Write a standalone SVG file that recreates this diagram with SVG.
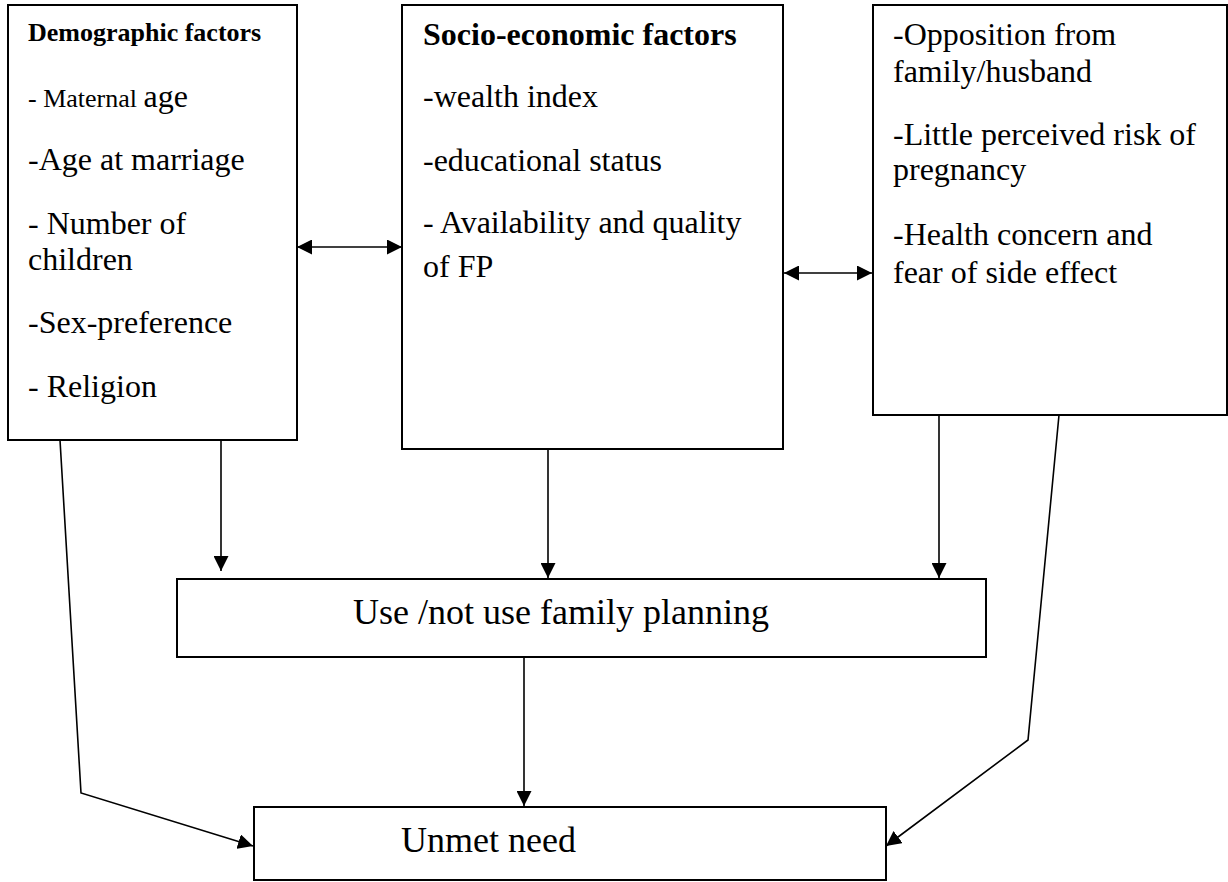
<svg xmlns="http://www.w3.org/2000/svg" width="1228" height="882" viewBox="0 0 1228 882">
<style>
.box{fill:#fff;stroke:#000;stroke-width:2}
.t{font-family:"Liberation Serif","Times New Roman",serif;font-size:32px;fill:#000}
.b{font-weight:bold}
.con{fill:none;stroke:#000;stroke-width:1.6}
</style>
<defs>
<marker id="ah" viewBox="0 0 15 15" markerWidth="15" markerHeight="15" refX="15" refY="7.5" orient="auto-start-reverse" markerUnits="userSpaceOnUse">
<path d="M0,0 L15,7.5 L0,15 z" fill="#000"/>
</marker>
</defs>
<rect width="1228" height="882" fill="#fff"/>
<g id="demographic">
<rect class="box" x="8" y="5" width="289" height="435"/>
<text class="t b" x="28" y="41" style="font-size:26px">Demographic factors</text>
<text class="t" x="28" y="107"><tspan style="font-size:26px">- Maternal </tspan>age</text>
<text class="t" x="28" y="170">-Age at marriage</text>
<text class="t" x="28" y="234">- Number of</text>
<text class="t" x="28" y="270">children</text>
<text class="t" x="28" y="333">-Sex-preference</text>
<text class="t" x="28" y="397">- Religion</text>
</g>
<g id="socioeconomic">
<rect class="box" x="402" y="5" width="381" height="444"/>
<text class="t b" x="423" y="45">Socio-economic factors</text>
<text class="t" x="423" y="107">-wealth index</text>
<text class="t" x="423" y="171">-educational status</text>
<text class="t" x="423" y="233">- Availability and quality</text>
<text class="t" x="423" y="277">of FP</text>
</g>
<g id="barriers">
<rect class="box" x="873" y="5" width="354" height="410"/>
<text class="t" x="893" y="45">-Opposition from</text>
<text class="t" x="893" y="82">family/husband</text>
<text class="t" x="893" y="145">-Little perceived risk of</text>
<text class="t" x="893" y="180">pregnancy</text>
<text class="t" x="893" y="245">-Health concern and</text>
<text class="t" x="893" y="283">fear of side effect</text>
</g>
<g id="use">
<rect class="box" x="177" y="579" width="809" height="78"/>
<text class="t" x="353" y="624" style="font-size:36px">Use /not use family planning</text>
</g>
<g id="unmet">
<rect class="box" x="254" y="807" width="632" height="73"/>
<text class="t" x="401" y="852" style="font-size:36px">Unmet need</text>
</g>
<g id="connectors">
<line class="con" x1="297" y1="247" x2="402" y2="247" marker-start="url(#ah)" marker-end="url(#ah)"/>
<line class="con" x1="784" y1="273" x2="872" y2="273" marker-start="url(#ah)" marker-end="url(#ah)"/>
<line class="con" x1="221" y1="440" x2="221" y2="571" marker-end="url(#ah)"/>
<line class="con" x1="548" y1="449" x2="548" y2="578" marker-end="url(#ah)"/>
<line class="con" x1="939" y1="415" x2="939" y2="578" marker-end="url(#ah)"/>
<line class="con" x1="524" y1="657" x2="524" y2="806" marker-end="url(#ah)"/>
<polyline class="con" points="60,440 81,793 253,846" marker-end="url(#ah)"/>
<polyline class="con" points="1059,415 1028,740 886,846" marker-end="url(#ah)"/>
</g>
</svg>
